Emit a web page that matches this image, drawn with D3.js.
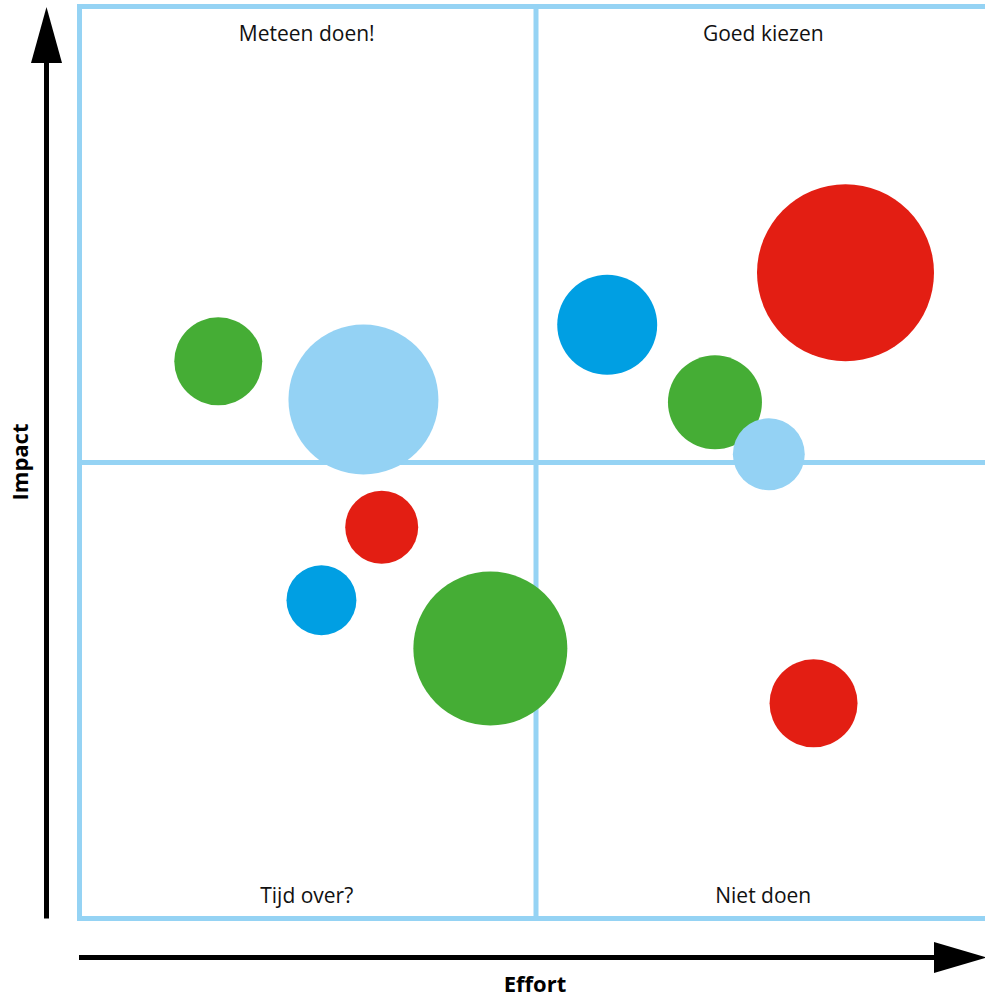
<!DOCTYPE html>
<html>
<head>
<meta charset="utf-8">
<script src="https://cdn.jsdelivr.net/npm/d3@7"></script>
<style>
  html, body { margin: 0; padding: 0; background: #fff; overflow: hidden; }
  svg { display: block; font-family: "Open Sans", "Noto Sans", sans-serif; }
</style>
</head>
<body>
<svg id="chart" width="985" height="1000"></svg>
<script>
// Bubble data: effort (x), impact (y), size and colour group
const effort = [15.2, 31.1, 33.1, 26.5, 45.0, 57.8, 83.9, 69.6, 75.5, 80.4];
const impact = [61.1, 56.9, 42.9, 34.9, 29.6, 65.1, 70.8, 56.6, 50.9, 23.6];
const size   = [24.7, 71.8, 17.0, 15.6, 75.7, 31.9, 100, 28.2, 16.5, 24.7];
const group  = ["groen", "lichtblauw", "rood", "blauw", "groen", "blauw", "rood", "groen", "lichtblauw", "rood"];

const groups = ["rood", "groen", "blauw", "lichtblauw"];
const groupColors = ["#e31e13", "#45ad35", "#009fe3", "#94d2f4"];

// Quadrant labels: [top-left, top-right, bottom-left, bottom-right]
const quadrantLabels = ["Meteen doen!", "Goed kiezen", "Tijd over?", "Niet doen"];
const xAxisLabel = "Effort";
const yAxisLabel = "Impact";

const svg = d3.select("#chart");
const gridColor = "#95d3f4";

const plot = { left: 79.5, top: 6.5, size: 912 };
const x = d3.scaleLinear().domain([0, 100]).range([plot.left, plot.left + plot.size + 1]);
const y = d3.scaleLinear().domain([0, 100]).range([plot.top + plot.size, plot.top]);
const r = d3.scaleSqrt().domain([0, 100]).range([0, 88.5]);
const color = d3.scaleOrdinal().domain(groups).range(groupColors);

const data = effort.map((e, i) => ({ x: e, y: impact[i], s: size[i], g: group[i] }));

// Quadrant frame and dividers
const frame = svg.append("g")
  .attr("fill", "none")
  .attr("stroke", gridColor)
  .attr("stroke-width", 5);
frame.append("path")
  .attr("d", `M${x(100) + 10},${y(100)} H${x(0)} V${y(0)} H${x(100) + 10}`);
frame.append("line")
  .attr("x1", x(50)).attr("x2", x(50))
  .attr("y1", y(100)).attr("y2", y(0));
frame.append("line")
  .attr("x1", x(0)).attr("x2", x(100) + 10)
  .attr("y1", y(50)).attr("y2", y(50));

// Quadrant titles
const labelPos = [
  { qx: 25, top: true }, { qx: 75, top: true },
  { qx: 25, top: false }, { qx: 75, top: false }
];
svg.append("g")
  .selectAll("text")
  .data(quadrantLabels)
  .join("text")
  .attr("x", (d, i) => x(labelPos[i].qx) - 1)
  .attr("y", (d, i) => labelPos[i].top ? y(100) + 34 : y(0) - 16)
  .attr("text-anchor", "middle")
  .attr("font-size", 21)
  .attr("fill", "#111")
  .text(d => d);

// Bubbles
svg.append("g")
  .selectAll("circle")
  .data(data)
  .join("circle")
  .attr("cx", d => x(d.x))
  .attr("cy", d => y(d.y))
  .attr("r", d => r(d.s))
  .attr("fill", d => color(d.g));

// Axis arrows
const axes = svg.append("g").attr("fill", "#000");
axes.append("line")
  .attr("x1", 46.5).attr("x2", 46.5)
  .attr("y1", y(0)).attr("y2", 50)
  .attr("stroke", "#000").attr("stroke-width", 5);
axes.append("path")
  .attr("d", "M46.5,7 L62,63 L31,63 Z");
axes.append("line")
  .attr("x1", 79).attr("x2", 945)
  .attr("y1", 957.5).attr("y2", 957.5)
  .attr("stroke", "#000").attr("stroke-width", 5);
axes.append("path")
  .attr("d", "M934,942 L987,957.5 L934,973 Z");

// Axis titles
svg.append("text")
  .attr("x", 535).attr("y", 992)
  .attr("text-anchor", "middle")
  .attr("font-size", 22)
  .attr("font-weight", "bold")
  .text(xAxisLabel);
svg.append("text")
  .attr("transform", "translate(28,462) rotate(-90)")
  .attr("text-anchor", "middle")
  .attr("font-size", 22)
  .attr("font-weight", "bold")
  .text(yAxisLabel);
</script>
</body>
</html>
